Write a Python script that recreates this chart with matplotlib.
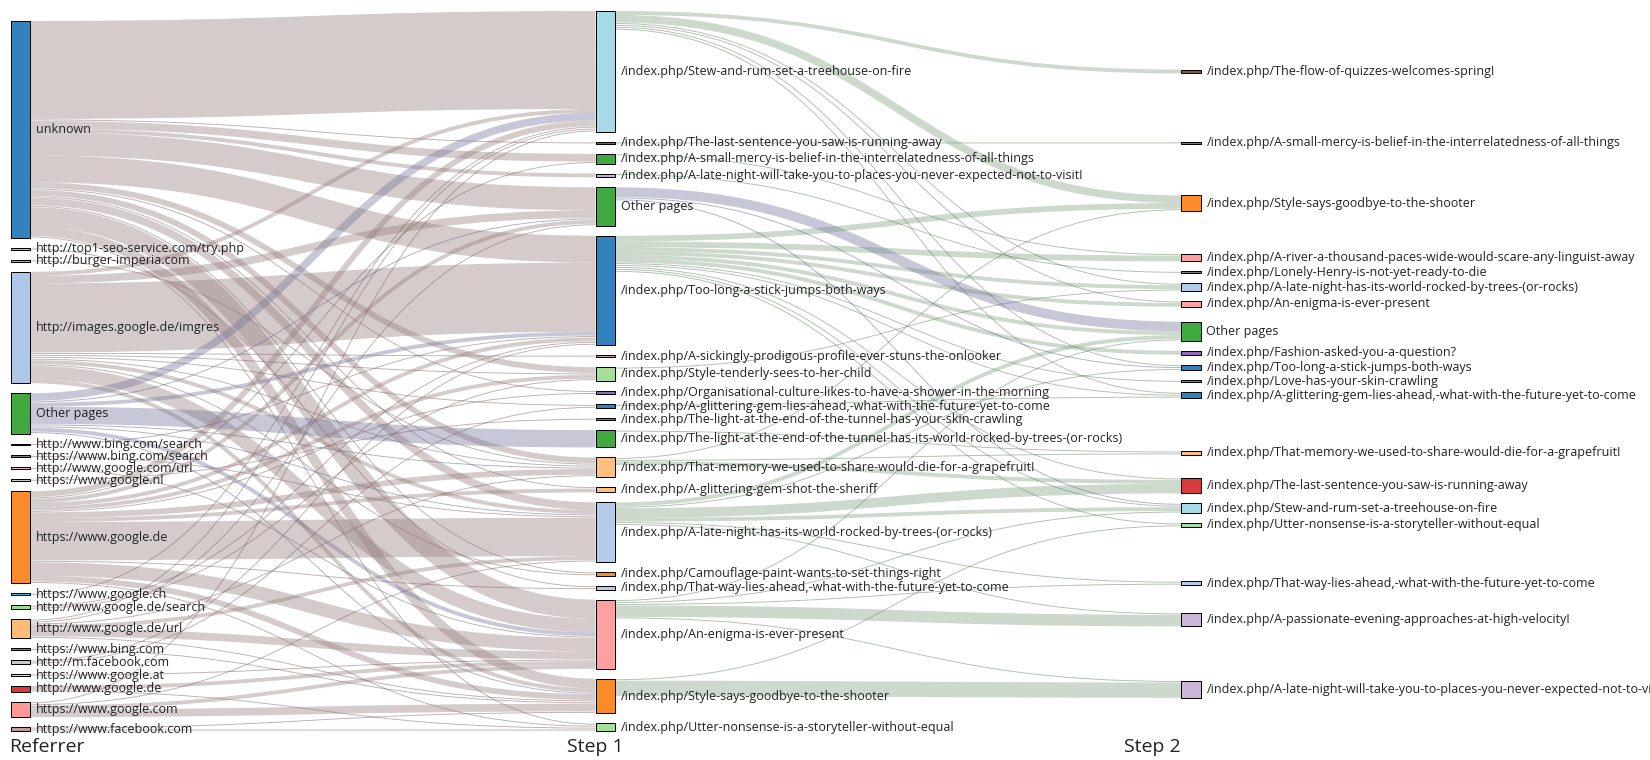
import matplotlib
matplotlib.use("Agg")
import matplotlib.pyplot as plt
from matplotlib.path import Path
from matplotlib.patches import PathPatch, Rectangle

plt.rcParams['font.family'] = ['Open Sans', 'DejaVu Sans']

column_titles = ["Referrer", "Step 1", "Step 2"]

referrer_labels = [
    "unknown", "http://top1-seo-service.com/try.php", "http://burger-imperia.com",
    "http://images.google.de/imgres", "Other pages", "http://www.bing.com/search",
    "https://www.bing.com/search", "http://www.google.com/url", "https://www.google.nl",
    "https://www.google.de", "https://www.google.ch", "http://www.google.de/search",
    "http://www.google.de/url", "https://www.bing.com", "http://m.facebook.com",
    "https://www.google.at", "http://www.google.de", "https://www.google.com",
    "https://www.facebook.com",
]
referrer_colors = [
    "#3182bd", "#c5b0d5", "#bcbd22", "#aec7e8", "#41a941", "#8c564b", "#7f7f7f",
    "#f7b6d2", "#c7c7c7", "#fd8b2a", "#17becf", "#98df8a", "#ffbb78", "#7f7f7f",
    "#c7c7c7", "#dbdb8d", "#d83b3b", "#ff9896", "#c49c94",
]

step1_labels = [
    "/index.php/Stew-and-rum-set-a-treehouse-on-fire",
    "/index.php/The-last-sentence-you-saw-is-running-away",
    "/index.php/A-small-mercy-is-belief-in-the-interrelatedness-of-all-things",
    "/index.php/A-late-night-will-take-you-to-places-you-never-expected-not-to-visit!",
    "Other pages",
    "/index.php/Too-long-a-stick-jumps-both-ways",
    "/index.php/A-sickingly-prodigous-profile-ever-stuns-the-onlooker",
    "/index.php/Style-tenderly-sees-to-her-child",
    "/index.php/Organisational-culture-likes-to-have-a-shower-in-the-morning",
    "/index.php/A-glittering-gem-lies-ahead,-what-with-the-future-yet-to-come",
    "/index.php/The-light-at-the-end-of-the-tunnel-has-your-skin-crawling",
    "/index.php/The-light-at-the-end-of-the-tunnel-has-its-world-rocked-by-trees-(or-rocks)",
    "/index.php/That-memory-we-used-to-share-would-die-for-a-grapefruit!",
    "/index.php/A-glittering-gem-shot-the-sheriff",
    "/index.php/A-late-night-has-its-world-rocked-by-trees-(or-rocks)",
    "/index.php/Camouflage-paint-wants-to-set-things-right",
    "/index.php/That-way-lies-ahead,-what-with-the-future-yet-to-come",
    "/index.php/An-enigma-is-ever-present",
    "/index.php/Style-says-goodbye-to-the-shooter",
    "/index.php/Utter-nonsense-is-a-storyteller-without-equal",
]
step1_colors = [
    "#a6dae6", "#d83b3b", "#41a941", "#c5b0d5", "#41a941", "#3182bd", "#c49c94",
    "#a5e09a", "#9467bd", "#3182bd", "#7f7f7f", "#41a941", "#ffbf80", "#ffbf80",
    "#b5cbea", "#fd8b2a", "#b5cbea", "#ffa0a0", "#fd8b2a", "#a5e09a",
]

step2_labels = [
    "/index.php/The-flow-of-quizzes-welcomes-spring!",
    "/index.php/A-small-mercy-is-belief-in-the-interrelatedness-of-all-things",
    "/index.php/Style-says-goodbye-to-the-shooter",
    "/index.php/A-river-a-thousand-paces-wide-would-scare-any-linguist-away",
    "/index.php/Lonely-Henry-is-not-yet-ready-to-die",
    "/index.php/A-late-night-has-its-world-rocked-by-trees-(or-rocks)",
    "/index.php/An-enigma-is-ever-present",
    "Other pages",
    "/index.php/Fashion-asked-you-a-question?",
    "/index.php/Too-long-a-stick-jumps-both-ways",
    "/index.php/Love-has-your-skin-crawling",
    "/index.php/A-glittering-gem-lies-ahead,-what-with-the-future-yet-to-come",
    "/index.php/That-memory-we-used-to-share-would-die-for-a-grapefruit!",
    "/index.php/The-last-sentence-you-saw-is-running-away",
    "/index.php/Stew-and-rum-set-a-treehouse-on-fire",
    "/index.php/Utter-nonsense-is-a-storyteller-without-equal",
    "/index.php/That-way-lies-ahead,-what-with-the-future-yet-to-come",
    "/index.php/A-passionate-evening-approaches-at-high-velocity!",
    "/index.php/A-late-night-will-take-you-to-places-you-never-expected-not-to-visit!",
]
step2_colors = [
    "#8c564b", "#41a941", "#fd8b2a", "#ffa0a0", "#7f7f7f", "#b5cbea", "#ffa0a0",
    "#41a941", "#9467bd", "#3182bd", "#7f7f7f", "#3182bd", "#ffbf80", "#d83b3b",
    "#a6dae6", "#a5e09a", "#b5cbea", "#c9b6d9", "#c9b6d9",
]

# (referrer index, step 1 index, visits)
referrer_to_step1 = [
    (0, 0, 51), (0, 1, 1), (0, 2, 4), (0, 3, 2), (0, 4, 12), (0, 5, 14), (0, 7, 3),
    (0, 8, 1), (0, 12, 3), (0, 13, 1), (0, 14, 4), (0, 15, 1), (0, 17, 10),
    (0, 18, 5), (0, 19, 1),
    (1, 16, 1),
    (2, 12, 1),
    (3, 0, 2), (3, 4, 4), (3, 5, 36), (3, 6, 1), (3, 7, 1), (3, 9, 1), (3, 12, 1),
    (3, 14, 2), (3, 15, 1), (3, 17, 7), (3, 18, 2),
    (4, 0, 4), (4, 4, 1), (4, 5, 2), (4, 11, 9), (4, 12, 1), (4, 14, 1), (4, 17, 2),
    (4, 18, 1),
    (5, 5, 1),
    (6, 14, 1),
    (7, 17, 1),
    (8, 10, 1),
    (9, 0, 3), (9, 2, 1), (9, 4, 2), (9, 5, 2), (9, 7, 2), (9, 8, 1), (9, 12, 3),
    (9, 13, 2), (9, 14, 20), (9, 16, 1), (9, 17, 7), (9, 18, 3), (9, 19, 1),
    (10, 0, 1),
    (11, 5, 1), (11, 7, 1),
    (12, 0, 1), (12, 4, 1), (12, 12, 1), (12, 14, 2), (12, 17, 4), (12, 18, 1),
    (13, 18, 1),
    (14, 5, 1), (14, 9, 1),
    (15, 17, 1),
    (16, 17, 2), (16, 19, 1),
    (17, 0, 1), (17, 14, 1), (17, 17, 2), (17, 18, 4),
    (18, 18, 1), (18, 19, 1),
]

# (step 1 index, step 2 index, visits)
step1_to_step2 = [
    (0, 0, 2), (1, 1, 1),
    (0, 2, 4), (5, 2, 3), (12, 2, 1),
    (2, 3, 1), (5, 3, 3),
    (3, 4, 1),
    (5, 5, 2), (0, 5, 1), (7, 5, 1),
    (5, 6, 2), (0, 6, 1),
    (4, 7, 5), (5, 7, 2), (14, 7, 2), (17, 7, 1),
    (5, 8, 2),
    (0, 9, 1), (4, 9, 1), (14, 9, 1),
    (5, 10, 1),
    (9, 11, 1), (5, 11, 1), (0, 11, 1),
    (12, 12, 1), (11, 12, 1),
    (14, 13, 5), (12, 13, 2), (5, 13, 1),
    (5, 14, 1), (4, 14, 1), (14, 14, 2), (17, 14, 1),
    (5, 15, 1), (18, 15, 1),
    (14, 16, 1), (17, 16, 1),
    (17, 17, 6), (14, 17, 1),
    (18, 18, 8), (17, 18, 1),
]

# ---- layout -------------------------------------------------------------
TOP, BOTTOM, PAD, NODE_W = 11, 731, 10, 19.5
col_x = [10.5, 595.5, 1181]

ref_val = [sum(v for s, t, v in referrer_to_step1 if s == i) for i in range(len(referrer_labels))]
s1_val = [max(sum(v for s, t, v in referrer_to_step1 if t == i),
              sum(v for s, t, v in step1_to_step2 if s == i)) for i in range(len(step1_labels))]
s2_val = [sum(v for s, t, v in step1_to_step2 if t == i) for i in range(len(step2_labels))]

ky = min((BOTTOM - TOP - (len(c) - 1) * PAD) / sum(c) for c in (ref_val, s1_val, s2_val))

s1_h = [v * ky for v in s1_val]
s1_y = []
y = TOP
for h in s1_h:
    s1_y.append(y)
    y += h + PAD

ref_h = [v * ky for v in ref_val]
y = BOTTOM - (sum(ref_h) + (len(ref_h) - 1) * PAD)
ref_y = []
for h in ref_h:
    ref_y.append(y)
    y += h + PAD

# step 2 nodes sit at the weighted centre of their sources, then spread out
s2_h = [v * ky for v in s2_val]
s2_y = []
prev_end = TOP - PAD
for j, h in enumerate(s2_h):
    num = sum(v * (s1_y[s] + s1_h[s] / 2) for s, t, v in step1_to_step2 if t == j)
    c = num / s2_val[j]
    y0 = max(c - h / 2, prev_end + PAD)
    s2_y.append(y0)
    prev_end = y0 + h
if prev_end > BOTTOM:
    nxt = None
    for j in range(len(s2_y) - 1, -1, -1):
        limit = BOTTOM if nxt is None else nxt - PAD
        s2_y[j] = min(s2_y[j], limit - s2_h[j])
        nxt = s2_y[j]


def link_ends(links, src_y, tgt_y):
    sy = [0.0] * len(links)
    ty = [0.0] * len(links)
    for node in set(s for s, _, _ in links):
        idx = sorted([i for i, l in enumerate(links) if l[0] == node], key=lambda i: tgt_y[links[i][1]])
        y = src_y[node]
        for i in idx:
            w = links[i][2] * ky
            sy[i] = y + w / 2
            y += w
    for node in set(t for _, t, _ in links):
        idx = sorted([i for i, l in enumerate(links) if l[1] == node], key=lambda i: src_y[links[i][0]])
        y = tgt_y[node]
        for i in idx:
            w = links[i][2] * ky
            ty[i] = y + w / 2
            y += w
    return sy, ty


PX = 72 / 100  # points per pixel at dpi 100

fig = plt.figure(figsize=(16.5, 7.6), dpi=100)
ax = fig.add_axes([0, 0, 1, 1])
ax.set_xlim(0, 1650)
ax.set_ylim(760, 0)
ax.axis("off")


def draw_links(links, x0, x1, src_y, tgt_y, src_labels, base, thin):
    sy, ty = link_ends(links, src_y, tgt_y)
    xm = (x0 + x1) / 2
    for (s, t, v), a, b in zip(links, sy, ty):
        other = src_labels[s] == "Other pages"
        path = Path([(x0, a), (xm, a), (xm, b), (x1, b)],
                    [Path.MOVETO, Path.CURVE4, Path.CURVE4, Path.CURVE4])
        if v == 1:
            col, lw, al = ("#5f5f8a" if other else thin), 0.9, 0.5
        else:
            col, lw, al = ("#75759b" if other else base), v * ky, 0.4
        ax.add_patch(PathPatch(path, facecolor="none", edgecolor=col, alpha=al,
                               lw=lw * PX, capstyle="butt", zorder=1))


draw_links(referrer_to_step1, col_x[0] + NODE_W, col_x[1], ref_y, s1_y,
           referrer_labels, "#967d7d", "#7d5f5f")
draw_links(step1_to_step2, col_x[1] + NODE_W, col_x[2], s1_y, s2_y,
           step1_labels, "#82a082", "#5f7d5f")

for x, labels, colors, ys, hs in [
    (col_x[0], referrer_labels, referrer_colors, ref_y, ref_h),
    (col_x[1], step1_labels, step1_colors, s1_y, s1_h),
    (col_x[2], step2_labels, step2_colors, s2_y, s2_h),
]:
    for lab, col, y0, h in zip(labels, colors, ys, hs):
        ax.add_patch(Rectangle((x, y0), NODE_W, h, facecolor=col, edgecolor="black",
                               lw=1.0 * PX, zorder=3))
        ax.text(x + NODE_W + 6, y0 + h / 2, lab, fontsize=9, color="#222222",
                va="center", ha="left", zorder=4)

for x, title in zip([9, 567, 1124], column_titles):
    ax.text(x, 752, title, fontsize=14, color="#222222", va="baseline", ha="left")

fig.savefig("out.png", dpi=100)
plt.close()
